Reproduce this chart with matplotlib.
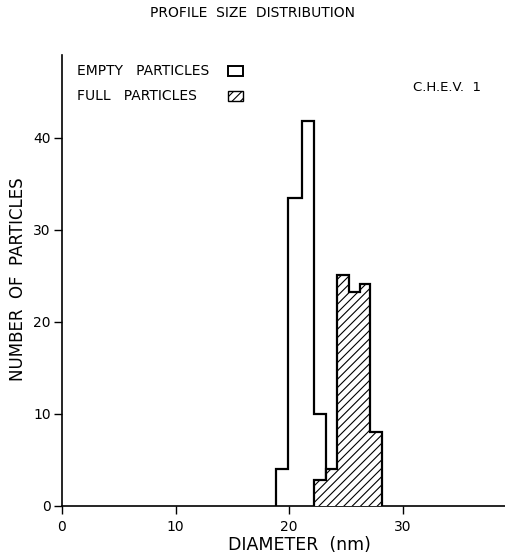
import numpy as np
import matplotlib
matplotlib.use('Agg')
from matplotlib import pyplot as plt
from matplotlib.patches import Rectangle

# bin edges (nm) and counts
empty_edges = [18.85, 19.9, 21.15, 22.2, 23.2]
empty_counts = [4, 33.5, 41.8, 10]
full_edges = [22.2, 23.2, 24.2, 25.3, 26.2, 27.15, 28.2]
full_counts = [2.8, 4, 25.1, 23.2, 24.1, 8]

x_ticks = [0, 10, 20, 30]
y_ticks = [0, 10, 20, 30, 40]

plt.rcParams['font.family'] = 'DejaVu Sans'
plt.rcParams['hatch.linewidth'] = 0.8

fig = plt.figure(figsize=(5.06, 5.55), dpi=100)
ax = fig.add_axes([0.1225, 0.0883, 0.8755, 0.8126])

ax.stairs(empty_counts, empty_edges, fill=False, baseline=0, color='black',
          linewidth=1.6, zorder=2)
ax.stairs(full_counts, full_edges, fill=True, baseline=0, facecolor='white',
          edgecolor='black', hatch='////', linewidth=1.6, zorder=3)

ax.set_xlim(0, 39)
ax.set_ylim(0, 49)
ax.set_xticks(x_ticks)
ax.set_yticks(y_ticks)
ax.tick_params(direction='out', length=6, width=1, labelsize=10, pad=2)
ax.tick_params(axis='x', pad=4)
for s in ['top', 'right']:
    ax.spines[s].set_visible(False)
for s in ['left', 'bottom']:
    ax.spines[s].set_linewidth(1.2)

ax.set_xlabel('DIAMETER  (nm)', fontsize=12.5)
ax.xaxis.set_label_coords(0.537, -0.066)
ax.set_ylabel('NUMBER  OF  PARTICLES', fontsize=12)
ax.yaxis.set_label_coords(-0.078, 0.504)
fig.suptitle('PROFILE  SIZE  DISTRIBUTION', fontsize=10, x=0.5, y=0.99)

# legend drawn by hand so both labels start at the same x
ax.text(0.034, 0.9645, 'EMPTY   PARTICLES', transform=ax.transAxes,
        fontsize=10, va='center', ha='left')
ax.text(0.034, 0.909, 'FULL   PARTICLES', transform=ax.transAxes,
        fontsize=10, va='center', ha='left')
ax.add_patch(Rectangle((0.375, 0.953), 0.034, 0.022, transform=ax.transAxes,
                       facecolor='white', edgecolor='black', linewidth=1.4,
                       clip_on=False))
ax.add_patch(Rectangle((0.375, 0.898), 0.034, 0.022, transform=ax.transAxes,
                       facecolor='white', edgecolor='black', linewidth=1.0,
                       hatch='////', clip_on=False))
ax.text(0.792, 0.927, 'C.H.E.V.  1', transform=ax.transAxes,
        fontsize=9.5, va='center', ha='left')

plt.savefig('out.png', dpi=100)
plt.close()
